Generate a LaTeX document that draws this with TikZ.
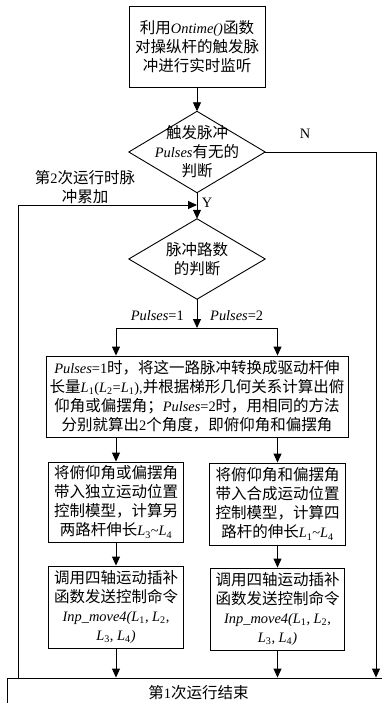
\documentclass[tikz,border=0pt]{standalone}
\usepackage{fontspec}
\setmainfont{Noto Sans CJK SC}
\newfontfamily\tms[Scale=0.93]{Liberation Serif}
\usetikzlibrary{arrows.meta,calc}
\newcommand\myfs{\fontsize{15.5pt}{19pt}\selectfont}
\newcommand\ti[1]{{\tms\itshape #1}}
\newcommand\tu[1]{{\tms #1}}
\newcommand\Lsub[1]{{\tms\itshape L}{\tms\textsubscript{#1}}}
\tikzset{
  box/.style={draw, line width=0.9pt, inner sep=0pt, align=center, font=\myfs},
  dtext/.style={inner sep=0pt, align=center, minimum width=136pt, minimum height=81pt, font=\myfs},
  arr/.style={-{Triangle[length=9pt,width=8pt]}, line width=0.9pt},
  ln/.style={line width=0.9pt},
  lbl/.style={inner sep=0pt, align=center, font=\myfs}
}
\begin{document}
\begin{tikzpicture}[x=1pt,y=-1pt]
\useasboundingbox (0,0) rectangle (382,703);
% nodes
\node[box, minimum width=136pt, minimum height=81pt] (top) at (197,46.5)
  {利用\ti{Ontime()}函数\\对操纵杆的触发脉\\冲进行实时监听};
\node[dtext] (d1) at (197,152) {触发脉冲\\\ti{Pulses}有无的\\判断};
\draw[ln] (d1.north) -- (d1.east) -- (d1.south) -- (d1.west) -- cycle;
\node[dtext, minimum height=80pt] (d2) at (197,259) {脉冲路数\\的判断};
\draw[ln] (d2.north) -- (d2.east) -- (d2.south) -- (d2.west) -- cycle;
\node[box, minimum width=302pt, minimum height=81pt] (big) at (197,396.5)
  {\ti{Pulses}\tu{=1}时，将这一路脉冲转换成驱动杆伸\\
   长量\Lsub{1}\tu{(}\Lsub{2}\tu{=}\Lsub{1}\tu{),}并根据梯形几何关系计算出俯\\
   仰角或偏摆角；\ti{Pulses}\tu{=2}时，用相同的方法\\
   分别就算出\tu{2}个角度，即俯仰角和偏摆角};
\node[box, minimum width=135pt, minimum height=80pt] (L2) at (116,502)
  {将俯仰角或偏摆角\\带入独立运动位置\\控制模型，计算另\\两路杆伸长\Lsub{3}\tu{\textasciitilde}\Lsub{4}};
\node[box, minimum width=136pt, minimum height=82pt] (R2) at (277.5,504)
  {将俯仰角和偏摆角\\带入合成运动位置\\控制模型，计算四\\路杆的伸长\Lsub{1}\tu{\textasciitilde}\Lsub{4}};
\node[box, minimum width=135pt, minimum height=82pt] (L3) at (116,607)
  {调用四轴运动插补\\函数发送控制命令\\\ti{Inp\_move4(}\Lsub{1}\tu{, }\Lsub{2}\tu{,}\\\Lsub{3}\tu{, }\Lsub{4}\ti{)}};
\node[box, minimum width=134pt, minimum height=82pt] (R3) at (277.5,609)
  {调用四轴运动插补\\函数发送控制命令\\\ti{Inp\_move4(}\Lsub{1}\tu{, }\Lsub{2}\tu{,}\\\Lsub{3}\tu{, }\Lsub{4}\ti{)}};
\node[box, minimum width=383pt, minimum height=30pt] (bot) at (198.5,693) {第\tu{1}次运行结束};
% labels
\node[lbl] (lN) at (305,134) {\tu{N}};
\node[lbl] (lY) at (207,203) {\tu{Y}};
\node[lbl] (lab) at (85,187.5) {第\tu{2}次运行时脉\\冲累加};
\node[lbl, anchor=east] (p1) at (184,316) {\ti{Pulses}\tu{=1}};
\node[lbl, anchor=west] (p2) at (210,316) {\ti{Pulses}\tu{=2}};
% coordinates
\coordinate (nR) at (376,152);
\coordinate (lp) at (18,205);
\coordinate (sp) at (197,328);
% connectors
\draw[arr] (top.south) -- (d1.north);
\draw[arr] (d1.south) -- (d2.north);
\draw[arr] (d1.east) -- (nR) -- (nR |- bot.north);
\draw[arr] (lp |- bot.north) -- (lp) -- (lp -| d1.south);
\draw[arr] (d2.south) -- (sp);
\draw[ln] (sp -| L2.north) -- (sp -| R2.north);
\draw[arr] (sp -| L2.north) -- (big.north -| L2.north);
\draw[arr] (sp -| R2.north) -- (big.north -| R2.north);
\draw[arr] (big.south -| L2.north) -- (L2.north);
\draw[arr] (big.south -| R2.north) -- (R2.north);
\draw[arr] (L2.south) -- (L3.north);
\draw[arr] (R2.south) -- (R3.north);
\draw[arr] (L3.south) -- (L3.south |- bot.north);
\draw[arr] (R3.south) -- (R3.south |- bot.north);
\end{tikzpicture}
\end{document}
